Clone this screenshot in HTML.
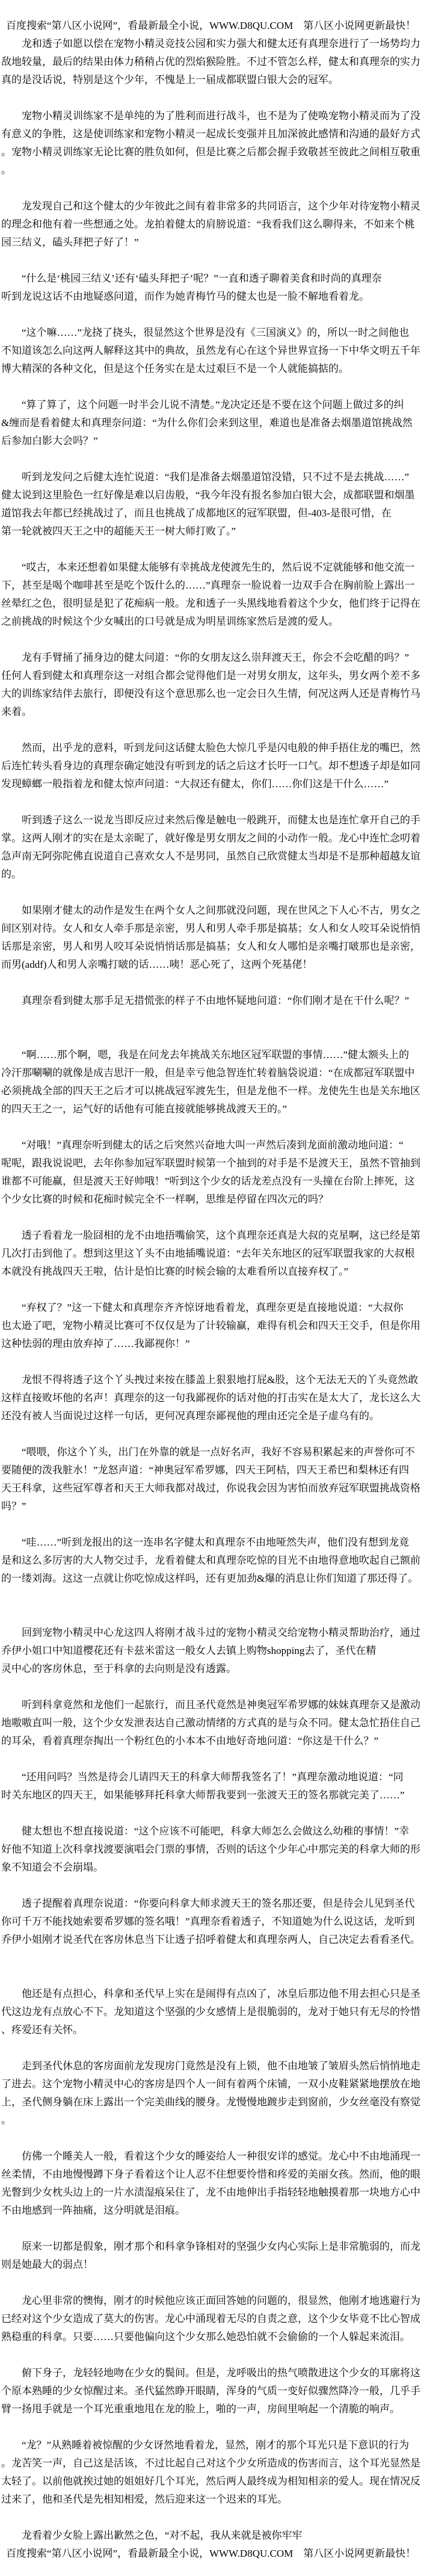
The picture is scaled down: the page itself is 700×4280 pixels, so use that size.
<!DOCTYPE html>
<html><head><meta charset="utf-8">
<style>
html,body{margin:0;padding:0;background:#fff;}
body{width:700px;height:4280px;overflow:hidden;}
#c{position:absolute;left:2px;top:28px;width:698px;font-family:"Liberation Serif","Noto Serif CJK SC","Noto Sans CJK SC",serif;font-size:17px;line-height:30px;color:#000;}
#c div{height:30px;white-space:pre;overflow:visible;}
.b{padding-left:8px;}
</style></head><body><div id="c">
<div class="b">百度搜索“第八区小说网”，看最新最全小说，WWW.D8QU.COM　第八区小说网更新最快！</div>
<div>　　龙和透子如愿以偿在宠物小精灵竞技公园和实力强大和健太还有真理奈进行了一场势均力</div>
<div>敌地较量，最后的结果由体力稍稍占优的烈焰猴险胜。不过不管怎么样，健太和真理奈的实力</div>
<div>真的是没话说，特别是这个少年，不愧是上一届成都联盟白银大会的冠军。</div>
<div></div>
<div>　　宠物小精灵训练家不是单纯的为了胜利而进行战斗，也不是为了使唤宠物小精灵而为了没</div>
<div>有意义的争胜，这是使训练家和宠物小精灵一起成长变强并且加深彼此感情和沟通的最好方式</div>
<div>。宠物小精灵训练家无论比赛的胜负如何，但是比赛之后都会握手致敬甚至彼此之间相互敬重</div>
<div>。</div>
<div></div>
<div>　　龙发现自己和这个健太的少年彼此之间有着非常多的共同语言，这个少年对待宠物小精灵</div>
<div>的理念和他有着一些想通之处。龙拍着健太的肩膀说道：“我看我们这么聊得来，不如来个桃</div>
<div>园三结义，磕头拜把子好了！”</div>
<div></div>
<div>　　“什么是‘桃园三结义’还有‘磕头拜把子’呢？”一直和透子聊着美食和时尚的真理奈</div>
<div>听到龙说这话不由地疑惑问道，而作为她青梅竹马的健太也是一脸不解地看着龙。</div>
<div></div>
<div>　　“这个嘛……”龙挠了挠头，很显然这个世界是没有《三国演义》的，所以一时之间他也</div>
<div>不知道该怎么向这两人解释这其中的典故，虽然龙有心在这个异世界宣扬一下中华文明五千年</div>
<div>博大精深的各种文化，但是这个任务实在是太过艰巨不是一个人就能搞掂的。</div>
<div></div>
<div>　　“算了算了，这个问题一时半会儿说不清楚。”龙决定还是不要在这个问题上做过多的纠</div>
<div>&amp;缠而是看着健太和真理奈问道：“为什么你们会来到这里，难道也是准备去烟墨道馆挑战然</div>
<div>后参加白影大会吗？”</div>
<div></div>
<div>　　听到龙发问之后健太连忙说道：“我们是准备去烟墨道馆没错，只不过不是去挑战……”</div>
<div>健太说到这里脸色一红好像是难以启齿般，“我今年没有报名参加白银大会，成都联盟和烟墨</div>
<div>道馆我去年都已经挑战过了，而且也挑战了成都地区的冠军联盟，但-403-是很可惜，在</div>
<div>第一轮就被四天王之中的超能天王一树大师打败了。”</div>
<div></div>
<div>　　“哎古，本来还想着如果健太能够有幸挑战龙使渡先生的，然后说不定就能够和他交流一</div>
<div>下，甚至是喝个咖啡甚至是吃个饭什么的……”真理奈一脸说着一边双手合在胸前脸上露出一</div>
<div>丝晕红之色，很明显是犯了花痴病一般。龙和透子一头黑线地看着这个少女，他们终于记得在</div>
<div>之前挑战的时候这个少女喊出的口号就是成为明星训练家然后是渡的爱人。</div>
<div></div>
<div>　　龙有手臂捅了捅身边的健太问道：“你的女朋友这么崇拜渡天王，你会不会吃醋的吗？”</div>
<div>任何人看到健太和真理奈这一对组合都会觉得他们是一对男女朋友，这年头，男女两个差不多</div>
<div>大的训练家结伴去旅行，即便没有这个意思那么也一定会日久生情，何况这两人还是青梅竹马</div>
<div>来着。</div>
<div></div>
<div>　　然而，出乎龙的意料，听到龙问这话健太脸色大惊几乎是闪电般的伸手捂住龙的嘴巴，然</div>
<div>后连忙转头看身边的真理奈确定她没有听到龙的话之后这才长吁一口气。却不想透子却是如同</div>
<div>发现蟑螂一般指着龙和健太惊声问道：“大叔还有健太，你们……你们这是干什么……”</div>
<div></div>
<div>　　听到透子这么一说龙当即反应过来然后像是触电一般跳开，而健太也是连忙拿开自己的手</div>
<div>掌。这两人刚才的实在是太亲昵了，就好像是男女朋友之间的小动作一般。龙心中连忙念叨着</div>
<div>急声南无阿弥陀佛直说道自己喜欢女人不是男同，虽然自己欣赏健太当却是不是那种超越友谊</div>
<div>的。</div>
<div></div>
<div>　　如果刚才健太的动作是发生在两个女人之间那就没问题，现在世风之下人心不古，男女之</div>
<div>间区别对待。女人和女人牵手那是亲密，男人和男人牵手那是搞基；女人和女人咬耳朵说悄悄</div>
<div>话那是亲密，男人和男人咬耳朵说悄悄话那是搞基；女人和女人哪怕是亲嘴打啵那也是亲密，</div>
<div>而男(addf)人和男人亲嘴打啵的话……咦！恶心死了，这两个死基佬！</div>
<div></div>
<div>　　真理奈看到健太那手足无措慌张的样子不由地怀疑地问道：“你们刚才是在干什么呢？”</div>
<div></div>
<div></div>
<div>　　“啊……那个啊，嗯，我是在问龙去年挑战关东地区冠军联盟的事情……”健太额头上的</div>
<div>冷汗那唰唰的就像是成吉思汗一般，但是幸亏他急智连忙转着脑袋说道：“在成都冠军联盟中</div>
<div>必须挑战全部的四天王之后才可以挑战冠军渡先生，但是龙他不一样。龙使先生也是关东地区</div>
<div>的四天王之一，运气好的话他有可能直接就能够挑战渡天王的。”</div>
<div></div>
<div>　　“对哦！”真理奈听到健太的话之后突然兴奋地大叫一声然后凑到龙面前激动地问道：“</div>
<div>呢呢，跟我说说吧，去年你参加冠军联盟时候第一个抽到的对手是不是渡天王，虽然不管抽到</div>
<div>谁都不可能赢，但是渡天王好帅哦！”听到这个少女的话龙差点没有一头撞在台阶上摔死，这</div>
<div>个少女比赛的时候和花痴时候完全不一样啊，思维是停留在四次元的吗？</div>
<div></div>
<div>　　透子看着龙一脸囧相的龙不由地捂嘴偷笑，这个真理奈还真是大叔的克星啊，这已经是第</div>
<div>几次打击到他了。想到这里这丫头不由地插嘴说道：“去年关东地区的冠军联盟我家的大叔根</div>
<div>本就没有挑战四天王啦，估计是怕比赛的时候会输的太难看所以直接弃权了。”</div>
<div></div>
<div>　　“弃权了？”这一下健太和真理奈齐齐惊讶地看着龙，真理奈更是直接地说道：“大叔你</div>
<div>也太逊了吧，宠物小精灵比赛可不仅仅是为了计较输赢，难得有机会和四天王交手，但是你用</div>
<div>这种怯弱的理由放弃掉了……我鄙视你！”</div>
<div></div>
<div>　　龙恨不得将透子这个丫头拽过来按在膝盖上狠狠地打屁&amp;股，这个无法无天的丫头竟然敢</div>
<div>这样直接败坏他的名声！真理奈的这一句我鄙视你的话对他的打击实在是太大了，龙长这么大</div>
<div>还没有被人当面说过这样一句话，更何况真理奈鄙视他的理由还完全是子虚乌有的。</div>
<div></div>
<div>　　“喂喂，你这个丫头，出门在外靠的就是一点好名声，我好不容易积累起来的声誉你可不</div>
<div>要随便的泼我脏水！”龙怒声道：“神奥冠军希罗娜，四天王阿桔，四天王希巴和梨林还有四</div>
<div>天王科拿，这些冠军尊者和天王大师我都对战过，你说我会因为害怕而放弃冠军联盟挑战资格</div>
<div>吗？”</div>
<div></div>
<div>　　“哇……”听到龙报出的这一连串名字健太和真理奈不由地哑然失声，他们没有想到龙竟</div>
<div>是和这么多厉害的大人物交过手，龙看着健太和真理奈吃惊的目光不由地得意地吹起自己额前</div>
<div>的一缕刘海。这这一点就让你吃惊成这样吗，还有更加劲&amp;爆的消息让你们知道了那还得了。</div>
<div></div>
<div></div>
<div>　　回到宠物小精灵中心龙这四人将刚才战斗过的宠物小精灵交给宠物小精灵帮助治疗，通过</div>
<div>乔伊小姐口中知道樱花还有卡兹米雷这一般女人去镇上购物shopping去了，圣代在精</div>
<div>灵中心的客房休息，至于科拿的去向则是没有透露。</div>
<div></div>
<div>　　听到科拿竟然和龙他们一起旅行，而且圣代竟然是神奥冠军希罗娜的妹妹真理奈又是激动</div>
<div>地嗷嗷直叫一般，这个少女发泄表达自己激动情绪的方式真的是与众不同。健太急忙捂住自己</div>
<div>的耳朵，看着真理奈掏出一个粉红色的小本本不由地好奇地问道：“你这是干什么？”</div>
<div></div>
<div>　　“还用问吗？当然是待会儿请四天王的科拿大师帮我签名了！”真理奈激动地说道：“同</div>
<div>时关东地区的四天王，如果能够拜托科拿大师帮我要到一张渡天王的签名那就完美了……”</div>
<div></div>
<div>　　健太想也不想直接说道：“这个应该不可能吧，科拿大师怎么会做这么幼稚的事情！”幸</div>
<div>好他不知道上次科拿找渡要演唱会门票的事情，否则的话这个少年心中那完美的科拿大师的形</div>
<div>象不知道会不会崩塌。</div>
<div></div>
<div>　　透子提醒着真理奈说道：“你要向科拿大师求渡天王的签名那还要，但是待会儿见到圣代</div>
<div>你可千万不能找她索要希罗娜的签名哦！”真理奈看着透子，不知道她为什么说这话，龙听到</div>
<div>乔伊小姐刚才说圣代在客房休息当下让透子招呼着健太和真理奈两人，自己决定去看看圣代。</div>
<div></div>
<div></div>
<div>　　他还是有点担心，科拿和圣代早上实在是闹得有点凶了，冰皇后那边他不用去担心只是圣</div>
<div>代这边龙有点放心不下。龙知道这个坚强的少女感情上是很脆弱的，龙对于她只有无尽的怜惜</div>
<div>、疼爱还有关怀。</div>
<div></div>
<div>　　走到圣代休息的客房面前龙发现房门竟然是没有上锁，他不由地皱了皱眉头然后悄悄地走</div>
<div>了进去。这个宠物小精灵中心的客房是四个人一间有着两个床铺，一双小皮鞋紧紧地摆放在地</div>
<div>上，圣代侧身躺在床上露出一个完美曲线的腰身。龙慢慢地踱步走到窗前，少女丝毫没有察觉</div>
<div>。</div>
<div></div>
<div>　　仿佛一个睡美人一般，看着这个少女的睡姿给人一种很安详的感觉。龙心中不由地涌现一</div>
<div>丝柔情，不由地慢慢蹲下身子看着这个让人忍不住想要怜惜和疼爱的美丽女孩。然而，他的眼</div>
<div>光瞥到少女枕头边上的一片水渍湿痕呆住了，龙不由地伸出手指轻轻地触摸着那一块地方心中</div>
<div>不由地感到一阵抽痛，这分明就是泪痕。</div>
<div></div>
<div>　　原来一切都是假象，刚才那个和科拿争锋相对的坚强少女内心实际上是非常脆弱的，而龙</div>
<div>则是她最大的弱点！</div>
<div></div>
<div>　　龙心里非常的懊悔，刚才的时候他应该正面回答她的问题的，很显然，他刚才地逃避行为</div>
<div>已经对这个少女造成了莫大的伤害。龙心中涌现着无尽的自责之意，这个少女毕竟不比心智成</div>
<div>熟稳重的科拿。只要……只要他偏向这个少女那么她恐怕就不会偷偷的一个人躲起来流泪。</div>
<div></div>
<div>　　俯下身子，龙轻轻地吻在少女的鬓间。但是，龙呼吸出的热气喷散进这个少女的耳廓将这</div>
<div>个原本熟睡的少女惊醒过来。圣代猛然睁开眼睛，浑身的气质一变好似骤然降冷一般，几乎手</div>
<div>臂一扬甩手就是一个耳光重重地甩在龙的脸上，啪的一声，房间里响起一个清脆的响声。</div>
<div></div>
<div>　　“龙？”从熟睡着被惊醒的少女讶然地看着龙，显然，刚才的那个耳光只是下意识的行为</div>
<div>。龙苦笑一声，自己这是活该，不过比起自己对这个少女所造成的伤害而言，这个耳光显然是</div>
<div>太轻了。以前他就挨过她的姐姐好几个耳光，然后两人最终成为相知相亲的爱人。现在情况反</div>
<div>过来了，他和圣代是先相知相爱，然后迎来这一个迟来的耳光。</div>
<div></div>
<div>　　龙看着少女脸上露出歉然之色，“对不起，我从来就是被你牢牢</div>
<div class="b">百度搜索“第八区小说网”，看最新最全小说，WWW.D8QU.COM　第八区小说网更新最快！</div>
</div></body></html>
